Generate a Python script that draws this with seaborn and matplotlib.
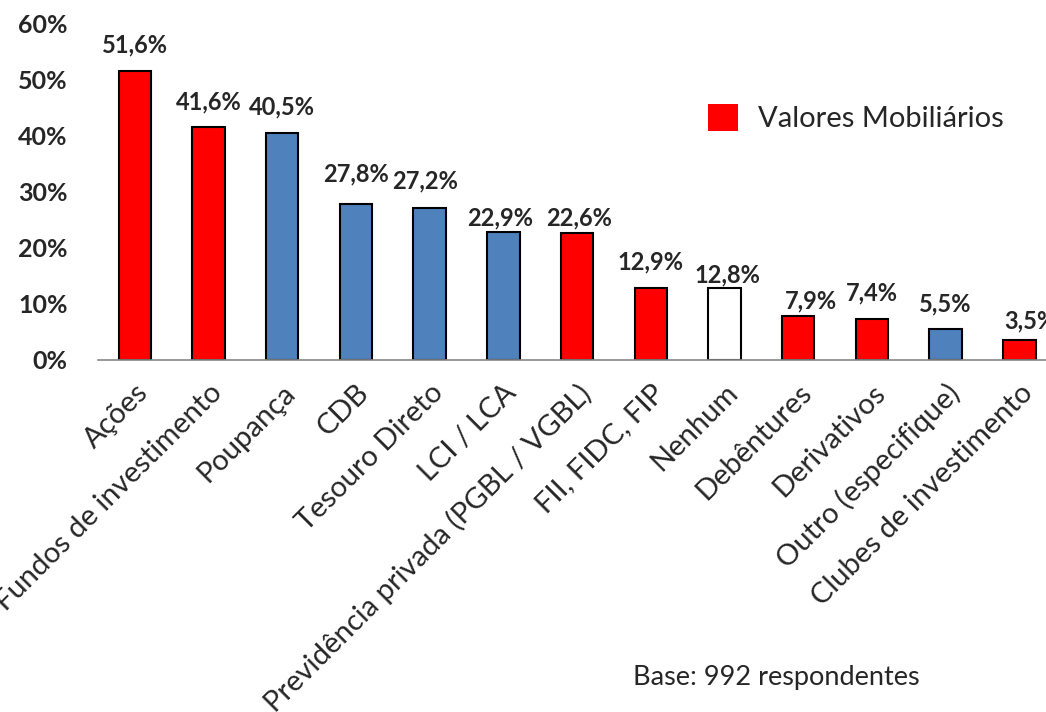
import pandas as pd
import seaborn as sns
import matplotlib.pyplot as plt
from matplotlib.patches import Patch
from matplotlib.ticker import FixedLocator, PercentFormatter

categories = ["Ações", "Fundos de investimento", "Poupança", "CDB", "Tesouro Direto",
              "LCI / LCA", "Previdência privada (PGBL / VGBL)", "FII, FIDC, FIP", "Nenhum",
              "Debêntures", "Derivativos", "Outro (especifique)", "Clubes de investimento"]
values = [51.6, 41.6, 40.5, 27.8, 27.2, 22.9, 22.6, 12.9, 12.8, 7.9, 7.4, 5.5, 3.5]
group = ["vm", "vm", "outro", "outro", "outro", "outro", "vm", "vm", "nenhum",
         "vm", "vm", "outro", "vm"]

# label nudges (points) to mimic the hand-placed labels of the original
label_dy = [13.7, 13, 13.7, 16.6, 13.7, 4.3, 5.8, 13, 4.3, 5, 13, 13, 8.6]
label_dx = [0, 0, 0, 0, -3.6, -2.2, 1.4, 0, 2, 9.4, 0, 0, 8]

colors = {"vm": "#FF0000", "outro": "#4F81BD", "nenhum": "#FFFFFF"}

df = pd.DataFrame({"cat": categories, "val": values, "grp": group})

sns.set_style("white")
plt.rcParams["font.family"] = ["Lato", "DejaVu Sans"]

fig = plt.figure(figsize=(10.46, 7.12), dpi=100)
ax = fig.add_axes([0.0937, 0.4944, 0.916, 0.4719])

sns.barplot(data=df, x="cat", y="val", hue="grp", palette=colors, dodge=False,
            saturation=1, width=0.44, edgecolor="black", linewidth=1.5,
            legend=False, ax=ax)

ax.set_ylim(0, 60)
ax.set_xlim(-0.5, len(categories) - 0.5)
ax.set_yticks(range(0, 61, 10))
ax.yaxis.set_major_formatter(PercentFormatter(decimals=0))
ax.tick_params(axis="y", length=0, labelsize=18, pad=22)
for t in ax.get_yticklabels():
    t.set_fontweight("bold")

ax.set_xticks(range(len(categories)))
ax.set_xticklabels(categories, rotation=45, ha="right", va="top",
                   rotation_mode="anchor", fontsize=21)
ax.tick_params(axis="x", which="major", length=0, pad=14)
ax.xaxis.set_minor_locator(FixedLocator([i - 0.5 for i in range(len(categories) + 1)]))
ax.tick_params(axis="x", which="minor", length=10, width=1, color="#888888",
               direction="out")

for s in ["top", "right", "left"]:
    ax.spines[s].set_visible(False)
ax.spines["bottom"].set_color("#888888")
ax.spines["bottom"].set_linewidth(1.2)
ax.set_xlabel("")
ax.set_ylabel("")

for i, v in enumerate(values):
    ax.annotate(f"{v:.1f}%".replace(".", ","), (i, v),
                xytext=(label_dx[i], label_dy[i]), textcoords="offset points",
                ha="center", va="baseline", fontsize=17, fontweight="bold",
                annotation_clip=False)

ax.legend(handles=[Patch(facecolor="#FF0000", edgecolor="none", label="Valores Mobiliários")],
          loc="center left", bbox_to_anchor=(708 / 1046, 1 - 118 / 712),
          bbox_transform=fig.transFigure, frameon=False, fontsize=21,
          handlelength=1.03, handleheight=1.03, handletextpad=0.69,
          borderpad=0, borderaxespad=0)

fig.text(633 / 1046, 1 - 678 / 712, "Base: 992 respondentes", fontsize=19.5, va="center")

fig.savefig("out.png", dpi=100)
